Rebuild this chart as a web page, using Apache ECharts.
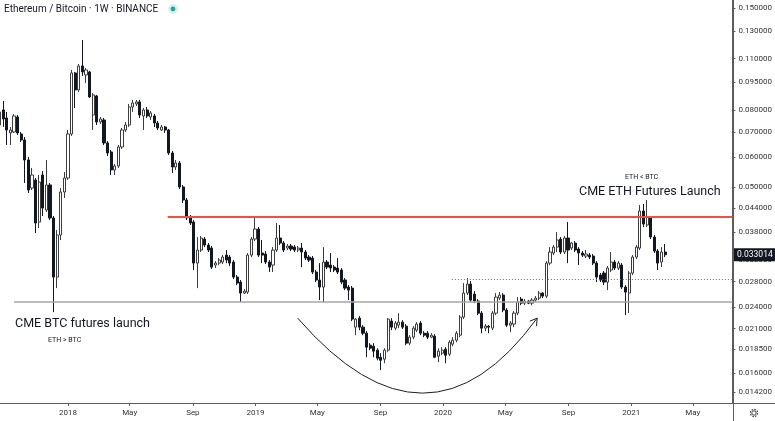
<!DOCTYPE html>
<html><head><meta charset="utf-8">
<script src="https://cdn.jsdelivr.net/npm/echarts@6/dist/echarts.min.js"></script>
<style>html,body{margin:0;padding:0;background:#fff}#c{width:775px;height:421px}</style>
</head><body><div id="c"></div>
<script>
// ---- data (ETH/BTC weekly, Binance) ----
const startWeek = '2017-08-21';
const open = [0.07318,0.08024,0.07640,0.06968,0.07010,0.07687,0.06925,0.06675,0.05904,0.04972,
0.05222,0.04035,0.05385,0.04344,0.05065,0.04136,0.02879,0.03726,0.04851,0.05286,
0.06925,0.10068,0.09071,0.10510,0.09946,0.10130,0.07782,0.08743,0.07454,0.07546,
0.06553,0.06201,0.05553,0.05691,0.06394,0.07097,0.07318,0.08173,0.08325,0.08428,
0.07734,0.08024,0.07687,0.07734,0.07408,0.07097,0.07229,0.07097,0.06163,0.05656,
0.05796,0.05003,0.04619,0.04136,0.04035,0.03137,0.03398,0.03635,0.03504,0.03440,
0.03099,0.03137,0.03157,0.03295,0.03255,0.03157,0.02879,0.02792,0.02610,0.02626,
0.03295,0.03635,0.03866,0.03336,0.03316,0.03157,0.03099,0.03398,0.03658,0.03547,
0.03440,0.03483,0.03461,0.03398,0.03440,0.03357,0.03255,0.03235,0.02969,0.02827,
0.02708,0.03157,0.03099,0.03061,0.03043,0.03006,0.02827,0.02708,0.02691,0.02118,
0.02238,0.02118,0.02041,0.01896,0.01884,0.01839,0.01761,0.01740,0.01839,0.02198,
0.02105,0.02144,0.02184,0.02131,0.01920,0.01992,0.02079,0.02171,0.02041,0.02041,
0.01992,0.02004,0.01772,0.01805,0.01850,0.01794,0.01908,0.01955,0.02016,0.02252,
0.02610,0.02758,0.02594,0.02485,0.02308,0.02105,0.02131,0.02105,0.02308,0.02531,
0.02578,0.02351,0.02144,0.02158,0.02308,0.02516,0.02454,0.02485,0.02454,0.02500,
0.02531,0.02610,0.02562,0.03137,0.03336,0.03461,0.03635,0.03357,0.03658,0.03440,
0.03547,0.03419,0.03336,0.03275,0.03295,0.03275,0.03137,0.02915,0.02951,0.02792,
0.03006,0.03157,0.03043,0.03099,0.02708,0.02610,0.02951,0.03255,0.03440,0.04317,
0.03962,0.04136,0.03680,0.03377,0.03157,0.03357];
const close = [0.07926,0.07593,0.07097,0.07097,0.07734,0.06968,0.06675,0.05904,0.04911,0.05385,
0.04011,0.05158,0.04397,0.05065,0.04136,0.02879,0.03726,0.04851,0.05286,0.06925,
0.10068,0.09071,0.10510,0.10130,0.10255,0.08690,0.08797,0.07454,0.07593,0.06553,
0.06163,0.05553,0.05691,0.06394,0.07097,0.07318,0.08173,0.08376,0.08428,0.07782,
0.08024,0.07734,0.07878,0.07408,0.07184,0.07229,0.07097,0.06163,0.05656,0.05796,
0.05003,0.04619,0.04136,0.04011,0.03137,0.03398,0.03658,0.03504,0.03398,0.03061,
0.03137,0.03196,0.03255,0.03196,0.03137,0.02879,0.02775,0.02610,0.02642,0.03295,
0.03635,0.03866,0.03295,0.03295,0.03157,0.03061,0.03398,0.03658,0.03547,0.03398,
0.03483,0.03419,0.03398,0.03440,0.03357,0.03235,0.03196,0.02969,0.02827,0.02708,
0.03157,0.03061,0.03043,0.03006,0.02969,0.02792,0.02691,0.02658,0.02225,0.02225,
0.02118,0.02041,0.01873,0.01861,0.01828,0.01751,0.01729,0.01839,0.02225,0.02118,
0.02171,0.02184,0.02118,0.01920,0.01992,0.02105,0.02158,0.02041,0.02016,0.01992,
0.02016,0.01761,0.01828,0.01839,0.01783,0.01931,0.01955,0.02041,0.02252,0.02610,
0.02758,0.02500,0.02485,0.02308,0.02105,0.02131,0.02118,0.02308,0.02547,0.02578,
0.02351,0.02144,0.02171,0.02308,0.02470,0.02454,0.02485,0.02454,0.02500,0.02531,
0.02610,0.02562,0.03137,0.03357,0.03461,0.03613,0.03357,0.03658,0.03398,0.03547,
0.03398,0.03336,0.03295,0.03316,0.03255,0.03137,0.02879,0.02827,0.02792,0.03043,
0.03157,0.03043,0.03137,0.02708,0.02626,0.02951,0.03255,0.03461,0.04317,0.03986,
0.04161,0.03680,0.03377,0.03137,0.03357,0.033014];
const high = [0.08376,0.08480,0.07926,0.07229,0.07830,0.07782,0.07010,0.06799,0.06014,0.05621,
0.05286,0.05385,0.05519,0.05904,0.05127,0.04187,0.03842,0.04972,0.05485,0.07097,
0.10255,0.10130,0.10640,0.12327,0.10382,0.10192,0.08905,0.08797,0.07687,0.07640,
0.06634,0.06278,0.05761,0.06473,0.07184,0.07454,0.08325,0.08532,0.08532,0.08532,
0.08123,0.08173,0.07975,0.07830,0.07500,0.07318,0.07273,0.07140,0.06239,0.05904,
0.05868,0.05065,0.04675,0.04213,0.04085,0.03680,0.03703,0.03680,0.03547,0.03483,
0.03176,0.03235,0.03295,0.03398,0.03295,0.03196,0.02915,0.02827,0.02675,0.03336,
0.03680,0.04161,0.03914,0.03613,0.03377,0.03196,0.03461,0.04011,0.03962,0.03591,
0.03526,0.03526,0.03504,0.03483,0.03547,0.03398,0.03295,0.03275,0.03006,0.03137,
0.03461,0.03196,0.03336,0.03099,0.03235,0.03043,0.02862,0.02741,0.02725,0.02238,
0.02266,0.02144,0.02067,0.01920,0.01920,0.01861,0.01805,0.01861,0.02238,0.02238,
0.02198,0.02308,0.02211,0.02158,0.02016,0.02131,0.02184,0.02198,0.02067,0.02067,
0.02041,0.02029,0.01861,0.01873,0.01873,0.01955,0.01992,0.02067,0.02280,0.02775,
0.02862,0.02810,0.02642,0.02516,0.02337,0.02158,0.02144,0.02337,0.02610,0.02626,
0.02610,0.02380,0.02198,0.02337,0.02547,0.02547,0.02516,0.02500,0.02531,0.02562,
0.02642,0.02626,0.03176,0.03461,0.03504,0.03795,0.03680,0.03703,0.04035,0.03569,
0.03591,0.03461,0.03377,0.03398,0.03336,0.03316,0.03176,0.02951,0.02987,0.03080,
0.03357,0.03196,0.03176,0.03137,0.02741,0.02987,0.03295,0.03504,0.04479,0.04507,
0.04619,0.04187,0.03726,0.03419,0.03461,0.03526];
const low = [0.07184,0.07229,0.06473,0.06473,0.06968,0.06883,0.06594,0.05127,0.04822,0.04911,
0.03772,0.03890,0.04187,0.04291,0.04085,0.02322,0.02691,0.03613,0.04675,0.05222,
0.06841,0.08123,0.08960,0.09885,0.09469,0.08637,0.07097,0.07318,0.07363,0.06473,
0.06051,0.05385,0.05385,0.05621,0.06316,0.07010,0.07229,0.07926,0.08223,0.07640,
0.07097,0.07640,0.07546,0.07229,0.07097,0.07053,0.06968,0.06088,0.05452,0.05553,
0.04942,0.04535,0.04085,0.03962,0.03006,0.02691,0.03357,0.03461,0.03357,0.03024,
0.03043,0.03099,0.03118,0.03137,0.03080,0.02844,0.02741,0.02470,0.02594,0.02594,
0.03255,0.03591,0.03255,0.03137,0.03118,0.02969,0.02969,0.03357,0.03504,0.03357,
0.03398,0.03377,0.03357,0.03357,0.03061,0.03196,0.03157,0.02933,0.02792,0.02500,
0.02470,0.03024,0.02969,0.02969,0.02933,0.02758,0.02658,0.02500,0.02198,0.02016,
0.02079,0.02016,0.01761,0.01839,0.01761,0.01729,0.01627,0.01698,0.01816,0.02079,
0.02079,0.02105,0.02093,0.01896,0.01896,0.01967,0.02054,0.02016,0.01992,0.01967,
0.01979,0.01751,0.01708,0.01783,0.01698,0.01772,0.01884,0.01931,0.01992,0.02225,
0.02578,0.02470,0.02454,0.02280,0.02041,0.02067,0.02041,0.02079,0.02280,0.02500,
0.02322,0.02118,0.02054,0.02118,0.02280,0.02424,0.02424,0.02439,0.02424,0.02470,
0.02500,0.02531,0.02531,0.03099,0.03295,0.03357,0.03316,0.03316,0.03137,0.03398,
0.03357,0.03099,0.03255,0.03235,0.03215,0.03099,0.02792,0.02792,0.02741,0.02658,
0.02969,0.03006,0.03006,0.02675,0.02280,0.02308,0.02915,0.03215,0.03398,0.03914,
0.03914,0.03635,0.03336,0.03006,0.03061,0.03255];

const yTicks = [0.15,0.13,0.11,0.095,0.08,0.07,0.06,0.05,0.044,0.038,0.032,0.028,0.024,0.021,0.0185,0.016,0.0142];
const xTickDates = ['2018-01-01','2018-05-01','2018-09-01','2019-01-01','2019-05-01','2019-09-01','2020-01-01','2020-05-01','2020-09-01','2021-01-01','2021-05-01'];
const xTickLabels = ['2018','May','Sep','2019','May','Sep','2020','May','Sep','2021','May'];

const resistance = {from:'2018-07-14', value:0.0417};
const support = {from:'2017-09-18', value:0.0248};
const dottedLevel = {from:'2020-01-18', value:0.0284};
const lastPrice = 0.033014;
const arcStart = ['2019-03-24', 0.02238];
const arcBottom = ['2019-11-22', 0.01413];
const arcEnd = ['2020-07-02', 0.02238];
const yRange = [0.0133, 0.1575];
const xRange = ['2017-08-21T16:00:00Z', '2021-07-17'];

// ---- build ----
const L = Math.log10;
const WEEK = 7 * 86400000;
const t0 = Date.parse(startWeek);
const candles = open.map((o, i) => [t0 + i * WEEK, L(o), L(close[i]), L(low[i]), L(high[i])]);
const xTickVals = xTickDates.map(d => Date.parse(d));
const FONT = 'Roboto, "Liberation Sans", Arial, sans-serif';
const AXC = '#5c5c5c';

const chart = echarts.init(document.getElementById('c'));
const hl = (lvl, style) => [
  {coord: [Date.parse(lvl.from), L(lvl.value)], lineStyle: style},
  {coord: [Date.parse(xRange[1]), L(lvl.value)]}
];

chart.setOption({
  animation: false,
  backgroundColor: '#ffffff',
  grid: {left: 0, right: 42, top: 0, bottom: 18},
  xAxis: {
    type: 'value', min: Date.parse(xRange[0]), max: Date.parse(xRange[1]),
    axisLine: {show: true, onZero: false, lineStyle: {color: AXC, width: 1}},
    axisTick: {show: true, customValues: xTickVals, length: 3, lineStyle: {color: AXC}},
    axisLabel: {
      customValues: xTickVals, margin: 6, fontSize: 8, color: '#333', fontFamily: FONT,
      formatter: v => {
        let bi = 0, bd = Infinity;
        xTickVals.forEach((t, i) => { const d = Math.abs(t - v); if (d < bd) { bd = d; bi = i; } });
        return xTickLabels[bi];
      }
    },
    splitLine: {show: false}
  },
  yAxis: {
    type: 'value', position: 'right', min: L(yRange[0]), max: L(yRange[1]),
    axisLine: {show: true, onZero: false, lineStyle: {color: AXC, width: 1}},
    axisTick: {show: true, customValues: yTicks.map(L), length: 3, lineStyle: {color: AXC}},
    axisLabel: {
      customValues: yTicks.map(L), margin: 6, fontSize: 8, color: '#333', fontFamily: FONT,
      formatter: v => Math.pow(10, v).toFixed(6)
    },
    splitLine: {show: false}
  },
  series: [{
    type: 'candlestick',
    data: candles,
    barWidth: 2.6,
    itemStyle: {
      color: '#ffffff', color0: '#131722',
      borderColor: '#3d3d3d', borderColor0: '#131722', borderWidth: 1
    },
    markLine: {
      silent: true, symbol: ['none', 'none'], animation: false,
      label: {show: false},
      data: [
        hl(support, {color: '#a6a6a6', width: 1.6, type: 'solid'}),
        hl(dottedLevel, {color: '#6f6f6f', width: 1, type: [1, 2]}),
        hl(resistance, {color: '#f0513f', width: 2, type: 'solid'})
      ]
    }
  }]
});

// annotations positioned from data space
const px = p => chart.convertToPixel({gridIndex: 0}, [Date.parse(p[0]), L(p[1])]);
const P0 = px(arcStart), PB = px(arcBottom), P2 = px(arcEnd);
const C = [2 * PB[0] - (P0[0] + P2[0]) / 2, 2 * PB[1] - (P0[1] + P2[1]) / 2];
let bx = C[0] - P2[0], by = C[1] - P2[1];
const bl = Math.hypot(bx, by); bx /= bl; by /= bl;
const rot = (a) => [P2[0] + 8 * (bx * Math.cos(a) - by * Math.sin(a)), P2[1] + 8 * (bx * Math.sin(a) + by * Math.cos(a))];
const A1 = rot(0.55), A2 = rot(-0.55);
const priceY = chart.convertToPixel({yAxisIndex: 0}, L(lastPrice));

chart.setOption({
  graphic: [
    {type: 'line', shape: {x1: 733.5, y1: 0, x2: 733.5, y2: 421}, style: {stroke: AXC, lineWidth: 1}, z: 50},
    {type: 'line', shape: {x1: 0, y1: 403.5, x2: 775, y2: 403.5}, style: {stroke: AXC, lineWidth: 1}, z: 50},
    {type: 'bezierCurve', shape: {x1: P0[0], y1: P0[1], cpx1: C[0], cpy1: C[1], x2: P2[0], y2: P2[1]},
     style: {stroke: '#1e1e1e', lineWidth: 1, fill: null}, z: 50},
    {type: 'polyline', shape: {points: [A1, P2, A2]}, style: {stroke: '#1e1e1e', lineWidth: 1, fill: null}, z: 50},
    {type: 'rect', shape: {x: 734, y: priceY - 6.5, width: 41, height: 13}, style: {fill: '#131722'}, z: 60},
    {type: 'text', x: 737, y: priceY + 0.5, style: {text: lastPrice.toFixed(6), fontSize: 8.5, fontFamily: FONT, fill: '#ffffff', verticalAlign: 'middle'}, z: 61},
    {type: 'text', x: 4, y: 9, style: {text: 'Ethereum / Bitcoin · 1W · BINANCE', fontSize: 10, fontFamily: FONT, fill: '#131722', verticalAlign: 'middle'}, z: 50},
    {type: 'circle', shape: {cx: 173, cy: 9, r: 5}, style: {fill: '#d9f0ec'}, z: 50},
    {type: 'circle', shape: {cx: 173, cy: 9, r: 2.4}, style: {fill: '#26a69a'}, z: 51},
    {type: 'text', x: 15, y: 324, style: {text: 'CME BTC futures launch', fontSize: 12.5, fontFamily: FONT, fill: '#131722', verticalAlign: 'middle'}, z: 50},
    {type: 'text', x: 48, y: 340, style: {text: 'ETH > BTC', fontSize: 7, fontFamily: FONT, fill: '#131722', verticalAlign: 'middle'}, z: 50},
    {type: 'text', x: 625, y: 177, style: {text: 'ETH < BTC', fontSize: 7, fontFamily: FONT, fill: '#131722', verticalAlign: 'middle'}, z: 50},
    {type: 'text', x: 579, y: 192, style: {text: 'CME ETH Futures Launch', fontSize: 12.5, fontFamily: FONT, fill: '#131722', verticalAlign: 'middle'}, z: 50},
    {type: 'circle', shape: {cx: 754, cy: 413, r: 3.6}, style: {fill: 'none', stroke: '#444', lineWidth: 1.2, lineDash: [1.6, 1.2]}, z: 50},
    {type: 'circle', shape: {cx: 754, cy: 413, r: 2.2}, style: {fill: 'none', stroke: '#444', lineWidth: 1}, z: 50}
  ]
});
</script>
</body></html>
